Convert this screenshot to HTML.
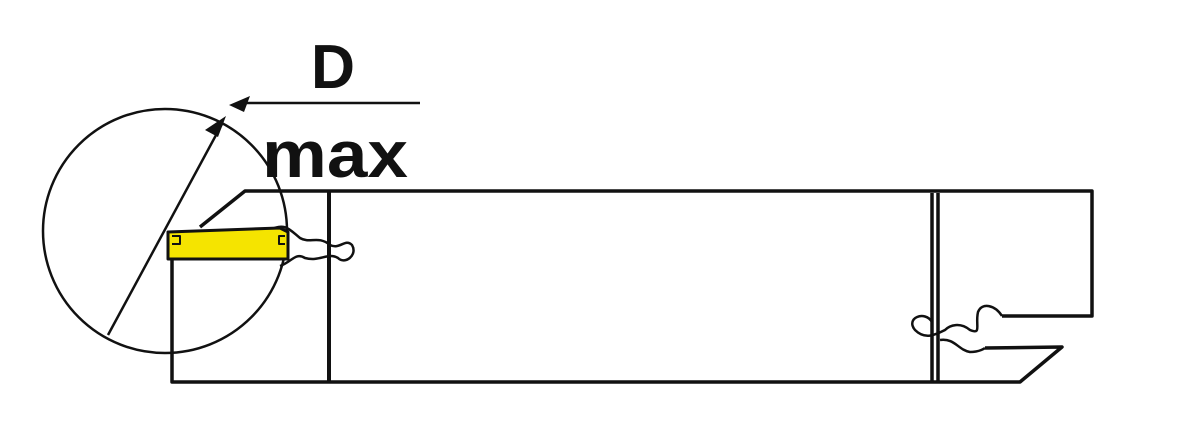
<!DOCTYPE html>
<html><head><style>body{margin:0;background:#fff}svg{display:block}</style></head><body>
<svg width="1198" height="431" viewBox="0 0 1198 431" xmlns="http://www.w3.org/2000/svg">
<g fill="none" stroke="#111" stroke-width="3.5" stroke-linejoin="round">
<circle cx="165" cy="231" r="122" stroke-width="2.5"/>
<line x1="108" y1="335" x2="222" y2="124" stroke-width="2.5"/>
<polygon points="226,116 205,130 218,137" fill="#111" stroke="none"/>
<line x1="240" y1="103" x2="420" y2="103" stroke-width="2.5"/>
<polygon points="229,105 250,96 244,112" fill="#111" stroke="none"/>
<polyline points="200,227 245,191 1092,191 1092,316 1002,316"/>
<line x1="329" y1="191" x2="329" y2="382" stroke-width="4"/>
<polyline points="172,259 172,382 1020,382 1062,347 985,348"/>
<line x1="932" y1="193" x2="932" y2="382"/>
<line x1="938" y1="193" x2="938" y2="382"/>
<path d="M1002,316 C995,305 982,302 978,312 C975,325 982,335 970,330 C960,322 950,325 945,330 C935,335 925,340 915,330 C905,318 925,310 932,322 M940,340 C955,338 958,350 970,352 C980,352 985,348 985,348" stroke-width="2.5"/>
<path d="M270,230 C285,222 290,230 300,238 C310,244 318,235 330,245 C340,250 345,238 352,245 C358,255 345,265 338,258 C328,252 320,262 305,258 C295,252 292,262 280,266" stroke-width="2.5"/>
<path d="M168,232 L280,228 L288,232 L288,259 L168,259 Z" fill="#f5e400" stroke="#111" stroke-width="3"/>
<path d="M172,236 h8 v8 h-8 M285,236 h-6 v8 h6" stroke-width="2"/>
</g>
<text x="311" y="88" font-family="Liberation Sans, sans-serif" font-weight="bold" font-size="62" fill="#111" textLength="44" lengthAdjust="spacingAndGlyphs">D</text>
<text x="262" y="177" font-family="Liberation Sans, sans-serif" font-weight="bold" font-size="66" fill="#111" textLength="146" lengthAdjust="spacingAndGlyphs">max</text>
</svg>
</body></html>
